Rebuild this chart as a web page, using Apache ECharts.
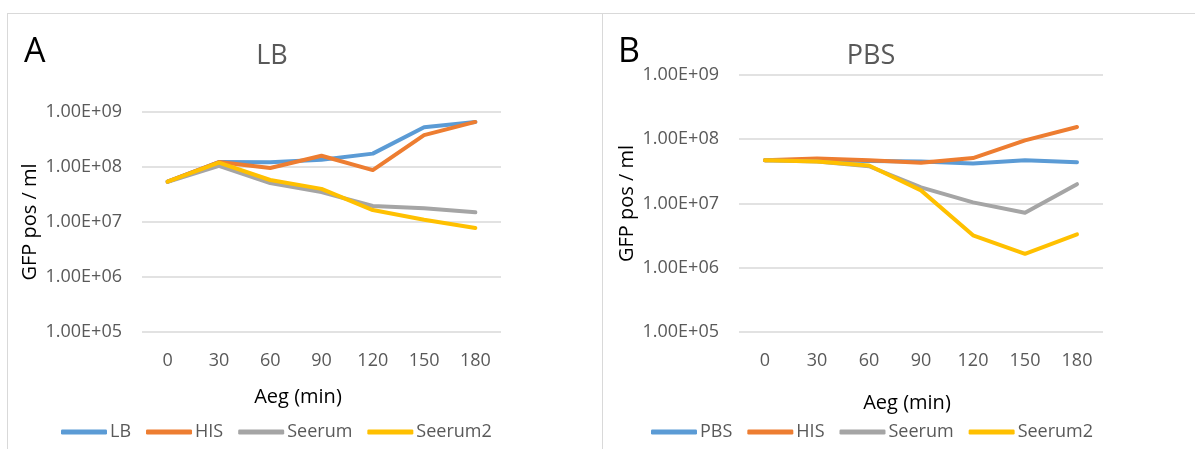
<!DOCTYPE html>
<html>
<head>
<meta charset="utf-8">
<script src="https://cdn.jsdelivr.net/npm/echarts@6/dist/echarts.min.js"></script>
<style>
  html, body { margin: 0; padding: 0; background: #fff; }
  #main { width: 1195px; height: 449px; }
</style>
</head>
<body>
<div id="main"></div>
<script>
// time points (min)
var minutes = ['0', '30', '60', '90', '120', '150', '180'];

// panel A - LB medium
var lbLB      = [5.4e7, 1.23e8, 1.22e8, 1.35e8, 1.75e8, 5.3e8, 6.6e8];
var lbHIS     = [5.4e7, 1.23e8, 9.6e7, 1.6e8, 8.8e7, 3.8e8, 6.6e8];
var lbSeerum  = [5.4e7, 1.05e8, 5.1e7, 3.5e7, 1.95e7, 1.78e7, 1.5e7];
var lbSeerum2 = [5.4e7, 1.2e8, 5.8e7, 4.0e7, 1.65e7, 1.1e7, 7.8e6];

// panel B - PBS
var pbsPBS     = [4.7e7, 4.7e7, 4.6e7, 4.5e7, 4.2e7, 4.7e7, 4.4e7];
var pbsHIS     = [4.7e7, 5.0e7, 4.7e7, 4.3e7, 5.1e7, 9.6e7, 1.55e8];
var pbsSeerum  = [4.7e7, 4.5e7, 3.8e7, 1.78e7, 1.04e7, 7.2e6, 2.0e7];
var pbsSeerum2 = [4.7e7, 4.5e7, 3.9e7, 1.6e7, 3.2e6, 1.65e6, 3.3e6];

var legendA = ['LB', 'HIS', 'Seerum', 'Seerum2'];
var legendB = ['PBS', 'HIS', 'Seerum', 'Seerum2'];

var colors = ['#5B9BD5', '#ED7D31', '#A5A5A5', '#FFC000'];
var font = '"Open Sans", "Liberation Sans", sans-serif';

function sciLabel(v) {
  var e = Math.round(Math.log(v) / Math.LN10);
  return '1.00E+' + (e < 10 ? '0' + e : e);
}

function xAxisCfg(idx) {
  return {
    type: 'category',
    gridIndex: idx,
    data: minutes,
    boundaryGap: true,
    axisLine: { show: false },
    axisTick: { show: false },
    axisLabel: { color: '#595959', fontSize: 18, fontFamily: font, margin: 20 }
  };
}

function yAxisCfg(idx) {
  return {
    type: 'log',
    logBase: 10,
    gridIndex: idx,
    min: 1e5,
    max: 1e9,
    name: 'GFP pos / ml',
    nameLocation: 'middle',
    nameGap: 102,
    nameTextStyle: { color: '#000', fontSize: 20, fontFamily: font },
    axisLine: { show: false },
    axisTick: { show: false },
    minorTick: { show: false },
    axisLabel: { color: '#595959', fontSize: 18, fontFamily: font, margin: 20, formatter: sciLabel },
    splitLine: { lineStyle: { color: '#D9D9D9', width: 1.5 } }
  };
}

function lineSeries(name, data, idx, c) {
  return {
    name: name,
    type: 'line',
    xAxisIndex: idx,
    yAxisIndex: idx,
    data: data,
    symbol: 'none',
    smooth: false,
    color: colors[c],
    lineStyle: { width: 4, color: colors[c], cap: 'round', join: 'round' },
    emphasis: { disabled: true }
  };
}

var chart = echarts.init(document.getElementById('main'));
chart.setOption({
  animation: false,
  title: [
    { text: 'LB', left: 267, top: 38, textAlign: 'center',
      textStyle: { color: '#595959', fontSize: 27, fontWeight: 'normal', fontFamily: font } },
    { text: 'PBS', left: 866, top: 38, textAlign: 'center',
      textStyle: { color: '#595959', fontSize: 27, fontWeight: 'normal', fontFamily: font } },
    { text: 'A', left: 19, top: 30,
      textStyle: { color: '#000', fontSize: 34, fontWeight: 'normal', fontFamily: font } },
    { text: 'B', left: 613, top: 30,
      textStyle: { color: '#000', fontSize: 34, fontWeight: 'normal', fontFamily: font } },
    { text: 'Aeg (min)', left: 293, top: 382, textAlign: 'center',
      textStyle: { color: '#000', fontSize: 20, fontWeight: 'normal', fontFamily: font } },
    { text: 'Aeg (min)', left: 902, top: 388, textAlign: 'center',
      textStyle: { color: '#000', fontSize: 20, fontWeight: 'normal', fontFamily: font } }
  ],
  graphic: [
    { type: 'line', shape: { x1: 7, y1: 13.5, x2: 1195, y2: 13.5 }, style: { stroke: '#D9D9D9', lineWidth: 1 } },
    { type: 'line', shape: { x1: 7.5, y1: 13, x2: 7.5, y2: 449 }, style: { stroke: '#D9D9D9', lineWidth: 1 } },
    { type: 'line', shape: { x1: 602.5, y1: 13, x2: 602.5, y2: 449 }, style: { stroke: '#D9D9D9', lineWidth: 1 } }
  ],
  legend: [
    { data: legendA, left: 56, top: 418, icon: 'roundRect', itemWidth: 46, itemHeight: 5, itemGap: 15,
      textStyle: { color: '#595959', fontSize: 18, fontFamily: font, padding: [0, 0, 0, -2] } },
    { data: legendB, left: 646, top: 418, icon: 'roundRect', itemWidth: 46, itemHeight: 5, itemGap: 15,
      textStyle: { color: '#595959', fontSize: 18, fontFamily: font, padding: [0, 0, 0, -2] } }
  ],
  grid: [
    { left: 142, right: 694, top: 112, bottom: 117 },
    { left: 739, right: 92, top: 75, bottom: 117 }
  ],
  xAxis: [xAxisCfg(0), xAxisCfg(1)],
  yAxis: [yAxisCfg(0), yAxisCfg(1)],
  series: [
    lineSeries('LB', lbLB, 0, 0),
    lineSeries('HIS', lbHIS, 0, 1),
    lineSeries('Seerum', lbSeerum, 0, 2),
    lineSeries('Seerum2', lbSeerum2, 0, 3),
    lineSeries('PBS', pbsPBS, 1, 0),
    lineSeries('HIS', pbsHIS, 1, 1),
    lineSeries('Seerum', pbsSeerum, 1, 2),
    lineSeries('Seerum2', pbsSeerum2, 1, 3)
  ]
});
</script>
</body>
</html>
